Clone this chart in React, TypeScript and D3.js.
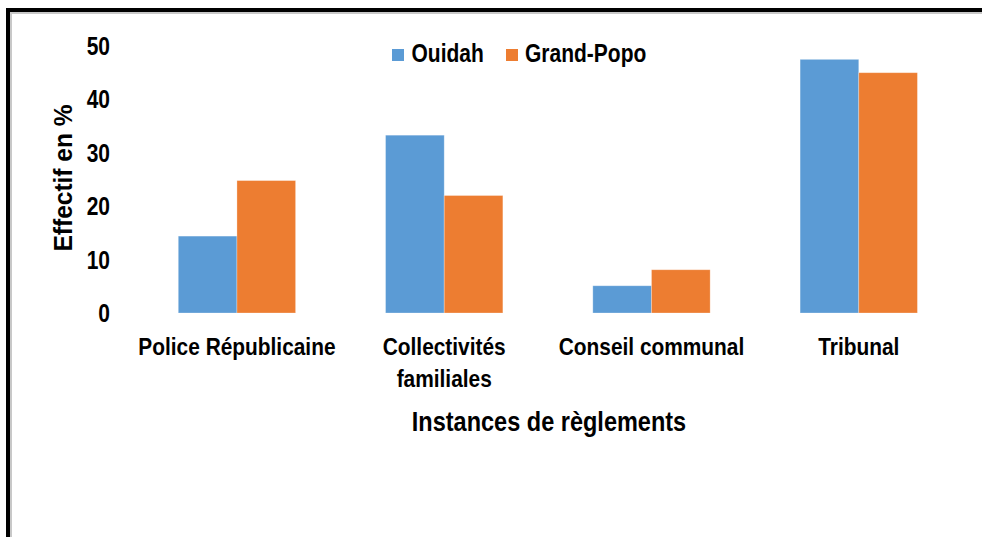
import React from "react";
import * as d3 from "d3";

const categories = [["Police Républicaine"], ["Collectivités", "familiales"], ["Conseil communal"], ["Tribunal"]];
const categoryKeys = ["Police Républicaine", "Collectivités familiales", "Conseil communal", "Tribunal"];
const seriesNames = ["Ouidah", "Grand-Popo"];
const ouidah = [14.4, 33.3, 5.1, 47.5];
const grandPopo = [24.8, 22.0, 8.1, 45.0];
const yTicks = [0, 10, 20, 30, 40, 50];
const colors = ["#5B9BD5", "#ED7D31"];

const FONT = "'Liberation Sans', Arial, sans-serif";

function T({ x, y, size, sx = 0.84, anchor = "middle", children, rotate = 0 }: any) {
  const tr = rotate
    ? `translate(${x},${y}) rotate(${rotate}) scale(${sx},1)`
    : `translate(${x},${y}) scale(${sx},1)`;
  return (
    <text transform={tr} textAnchor={anchor} fontFamily={FONT} fontWeight="bold" fontSize={size} fill="#000">
      {children}
    </text>
  );
}

export default function App() {
  const W = 982, H = 537;
  const x0 = d3.scaleBand<string>().domain(categoryKeys).range([133.3, 962.4]).paddingInner(0.434).paddingOuter(0.217);
  const x1 = d3.scaleBand<string>().domain(seriesNames).range([0, x0.bandwidth()]);
  const y = d3.scaleLinear().domain([0, 50]).range([313, 46]);
  const data = [ouidah, grandPopo];

  return (
    <svg width={W} height={H} style={{ position: "absolute", left: 0, top: 0, background: "#fff" }}>
      <rect x={0} y={0} width={W} height={H} fill="#fff" />
      {/* frame */}
      <path d={`M11,${H} V13 H${W}`} fill="none" stroke="#c8c8c8" strokeWidth={2} />
      <path d={`M8,${H} V10 H${W}`} fill="none" stroke="#000" strokeWidth={4} />

      {/* bars */}
      {categoryKeys.map((c, i) => (
        <g key={c} transform={`translate(${x0(c)},0)`}>
          {seriesNames.map((s, j) => (
            <rect
              key={s}
              x={x1(s)}
              y={y(data[j][i])}
              width={x1.bandwidth()}
              height={y(0) - y(data[j][i])}
              fill={colors[j]}
              stroke="#ffffff"
              strokeOpacity={0.35}
              strokeWidth={0.8}
            />
          ))}
        </g>
      ))}

      {/* y ticks */}
      {yTicks.map((t) => (
        <T key={t} x={110} y={y(t) + 9} size={25} anchor="end">
          {t}
        </T>
      ))}

      {/* y title */}
      <T x={72} y={178} size={25} sx={0.98} rotate={-90}>Effectif en %</T>

      {/* category labels */}
      {categories.map((lines, i) => (
        <g key={i}>
          {lines.map((ln, k) => (
            <T key={k} x={(x0(categoryKeys[i]) as number) + x0.bandwidth() / 2} y={355 + k * 32} size={24} sx={0.87}>
              {ln}
            </T>
          ))}
        </g>
      ))}

      {/* x title */}
      <T x={549} y={431} size={28} sx={0.84}>Instances de règlements</T>

      {/* legend */}
      <rect x={392} y={49} width={12} height={12} fill={colors[0]} />
      <T x={411.5} y={62} size={25} anchor="start">Ouidah</T>
      <rect x={506} y={49} width={12} height={12} fill={colors[1]} />
      <T x={525} y={62} size={25} anchor="start">Grand-Popo</T>
    </svg>
  );
}
